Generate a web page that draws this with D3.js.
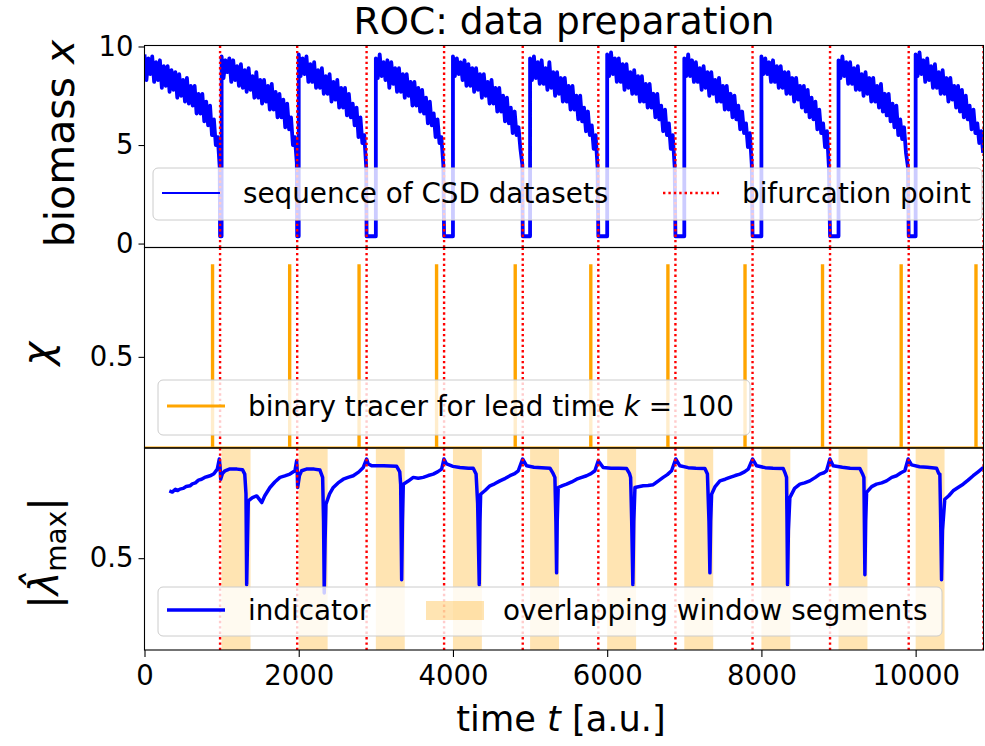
<!DOCTYPE html>
<html><head><meta charset="utf-8">
<script src="https://cdn.jsdelivr.net/npm/d3@7"></script>
<style>
html,body{margin:0;padding:0;background:#fff;}
svg{display:block;font-family:"DejaVu Sans",sans-serif;}
</style></head><body>
<svg id="chart" width="985" height="746"></svg>
<script>
// ---------------- data ----------------
// start of each CSD dataset and its bifurcation time
const segmentStarts = [0, 1000, 2000, 3000, 4000, 5000, 6000, 7000, 8000, 9000, 10000];
const bifurcations  = [980, 1980, 2880, 3885, 4905, 5885, 6885, 7885, 8890, 9910, 10880];
const sampleStep = 25;          // time between stored biomass samples
const collapsedLevel = 0.37;    // biomass after the tipping point

// biomass samples of each dataset (every sampleStep from its start)
const biomass = [
  [9.6,8.3,9.4,8.6,9.5,8.2,9.2,8.3,9.3,7.9,9.0,8.0,9.0,7.7,8.8,7.8,8.7,7.4,8.6,7.5,8.3,7.2,8.4,7.1,8.0,7.0,8.0,6.6,7.6,6.6,7.6,6.2,7.2,6.0,7.0,5.5,6.3,5.0,5.4,3.9],
  [9.5,8.4,9.3,8.7,9.4,8.2,9.3,8.3,9.0,8.0,9.1,7.9,8.8,7.7,8.9,7.8,8.5,7.4,8.7,7.4,8.3,7.1,8.3,7.2,8.0,6.8,8.1,6.8,7.7,6.4,7.6,6.4,7.3,5.9,7.1,5.8,6.4,5.0,5.4,4.1],
  [9.6,8.5,9.4,8.6,9.5,8.2,9.1,8.2,9.2,7.9,8.8,7.9,8.9,7.6,8.5,7.6,8.6,7.2,8.2,7.3,8.3,6.9,7.9,6.9,7.9,6.5,7.6,6.4,7.1,6.0,6.9,5.4,6.4,5.1,5.5,3.9],
  [9.4,8.4,9.6,8.5,9.2,8.3,9.3,7.9,9.2,8.1,8.9,7.7,8.9,7.7,8.6,7.4,8.6,7.5,8.2,7.0,8.2,7.0,7.9,6.7,7.8,6.6,7.4,6.1,7.2,6.0,6.6,5.4,6.3,5.1,5.4,4.0],
  [9.5,8.5,9.4,8.6,9.2,8.3,9.3,8.0,9.1,8.0,8.9,7.7,8.9,7.8,8.6,7.4,8.6,7.5,8.2,7.1,8.3,7.1,7.9,6.7,7.9,6.7,7.5,6.2,7.4,6.1,6.9,5.6,6.7,5.5,5.9,4.8,4.0],
  [9.4,8.3,9.5,8.4,9.2,8.1,9.3,8.1,8.9,7.8,9.2,7.9,8.7,7.5,8.7,7.6,8.4,7.2,8.4,7.2,8.0,6.8,8.0,6.8,7.5,6.3,7.5,6.2,6.9,5.7,6.7,5.5,6.0,4.8,5.5,3.9],
  [9.6,8.5,9.7,8.6,9.4,8.2,9.4,8.2,9.1,7.8,9.1,7.9,8.7,7.6,8.8,7.6,8.5,7.2,8.5,7.2,8.1,6.9,8.1,6.9,7.6,6.4,7.6,6.3,7.0,5.7,6.8,5.5,6.1,4.8,5.5,3.9],
  [9.4,8.5,9.6,8.5,9.3,8.2,9.2,8.2,8.9,7.8,9.0,7.9,8.7,7.5,8.7,7.6,8.3,7.2,8.4,7.2,8.0,6.8,8.0,6.8,7.6,6.4,7.5,6.3,7.0,5.8,6.7,5.6,6.1,4.9,5.6,4.0],
  [9.5,8.6,9.4,8.6,9.2,8.2,9.3,8.2,9.0,7.9,9.0,7.9,8.7,7.6,8.7,7.6,8.4,7.2,8.4,7.3,8.0,6.9,8.0,6.7,7.8,6.4,7.4,6.3,7.2,5.8,6.8,5.6,6.1,4.9,5.7,3.9],
  [9.3,8.4,9.5,8.5,9.2,8.1,9.2,8.1,8.9,7.8,9.0,7.8,8.6,7.5,8.7,7.6,8.4,7.2,8.4,7.2,8.0,6.9,8.1,6.7,7.6,6.5,7.6,6.2,7.1,5.9,7.0,5.5,6.3,5.3,5.9,4.6,3.9],
  [9.6,8.5,9.7,8.6,9.3,8.2,9.4,8.3,9.0,7.9,9.1,7.9,8.7,7.6,8.8,7.6,8.4,7.2,8.4,7.3,8.0,6.9,8.0,6.7,7.8,6.4,7.5,6.3,7.0,5.8,6.8,5.6,6.1,5.1,5.7,4.6]
];

// binary tracer: switched on k = 100 time units before each bifurcation
const tracerTimes = [880, 1880, 2780, 3785, 4805, 5785, 6785, 7785, 8790, 9810, 10780];

// overlapping window segments
const windowStarts = [1000, 2000, 3000, 4000, 5000, 6000, 7000, 8000, 9000, 10000];
const windowLength = 375;

// indicator |lambda_max|
const indicatorT = [322,360,400,430,460,500,540,590,620,660,700,740,780,820,860,900,944,970,980,988,1010,1044,1100,1200,1270,1300,1316,1325,1336,1346,1400,1455,1490,1520,1560,1627,1690,1757,1820,1886,1951,1973,1980,1986,2010,2038,2100,2200,2275,2310,2322,2331,2342,2353,2400,2448,2510,2578,2640,2707,2780,2837,2881,2902,2950,3100,3270,3310,3322,3335,3345,3356,3420,3485,3550,3614,3680,3744,3800,3853,3883,3918,4000,4090,4200,4263,4300,4320,4341,4350,4359,4420,4480,4540,4609,4680,4739,4800,4847,4903,4956,5050,5150,5258,5300,5322,5335,5344,5352,5365,5420,5474,5540,5604,5670,5733,5790,5841,5884,5948,6050,6150,6252,6290,6304,6318,6333,6345,6360,6420,6467,6530,6597,6660,6726,6780,6835,6889,6943,7050,7150,7267,7300,7320,7332,7342,7354,7400,7462,7530,7592,7660,7722,7780,7829,7886,7938,8050,8150,8283,8310,8326,8332,8339,8350,8369,8430,8499,8560,8628,8700,8758,8810,8845,8888,8930,9050,9150,9277,9310,9329,9335,9342,9352,9364,9430,9493,9560,9623,9690,9752,9810,9860,9903,9947,10050,10150,10271,10300,10314,10325,10336,10348,10378,10430,10486,10550,10616,10680,10746,10810,10880];
const indicatorV = [0.866,0.86,0.875,0.868,0.876,0.88,0.89,0.894,0.905,0.91,0.925,0.93,0.94,0.945,0.95,0.96,0.985,1.04,1.0,0.93,0.96,0.976,0.985,0.985,0.982,0.958,0.85,0.356,0.6,0.812,0.83,0.839,0.82,0.803,0.84,0.885,0.915,0.94,0.948,0.958,0.976,1.031,0.98,0.885,0.95,0.976,0.985,0.985,0.98,0.94,0.7,0.31,0.6,0.794,0.85,0.885,0.91,0.93,0.94,0.949,0.97,0.994,1.04,1.013,1.003,1.003,1.0,0.97,0.9,0.383,0.7,0.903,0.92,0.94,0.935,0.94,0.95,0.958,0.97,0.985,1.04,1.013,1.0,0.994,0.99,0.99,0.958,0.8,0.356,0.7,0.848,0.87,0.894,0.905,0.921,0.935,0.949,0.96,0.976,1.04,1.003,0.995,0.993,0.99,0.96,0.94,0.7,0.42,0.7,0.885,0.895,0.903,0.915,0.93,0.94,0.949,0.96,0.976,1.031,0.994,0.99,0.99,0.988,0.96,0.94,0.7,0.356,0.7,0.885,0.89,0.894,0.896,0.9,0.92,0.94,0.955,0.976,1.04,1.003,0.993,0.99,0.988,0.958,0.7,0.42,0.7,0.848,0.89,0.921,0.93,0.94,0.95,0.958,0.97,0.985,1.04,1.003,0.993,0.99,0.988,0.96,0.94,0.7,0.356,0.65,0.83,0.88,0.903,0.91,0.921,0.94,0.958,0.965,0.976,1.04,1.003,0.995,0.99,0.988,0.96,0.94,0.7,0.41,0.7,0.858,0.89,0.903,0.91,0.921,0.94,0.949,0.965,0.976,1.04,1.008,0.998,0.995,0.99,0.96,0.958,0.7,0.383,0.65,0.821,0.84,0.867,0.885,0.903,0.925,0.949,0.97,0.994];

// axes settings
const timeDomain = [0, 10880];
const timeTicks = [0, 2000, 4000, 6000, 8000, 10000];
const biomassDomain = [-0.2, 10.05];
const biomassTicks = [0, 5, 10];
const unitDomain = [0, 1.1];
const tracerTicks = [0.5];
const indicatorTicks = [0.5];

// ---------------- drawing ----------------
const svg = d3.select("#chart");
const TICK_FONT = 27.5, LEGEND_FONT = 27.8, LABEL_FONT = 41;
const left = 144.5, right = 983.5;
const panels = [
  {top: 45.5, bottom: 247.5},
  {top: 247.5, bottom: 448},
  {top: 448, bottom: 650}
];
const BLUE = "#0000ff", ORANGE = "#ffa500", RED = "#ff0000";
const DOTS = "2.4,3";

const x = d3.scaleLinear().domain(timeDomain).range([left, right]);
const yBio = d3.scaleLinear().domain(biomassDomain).range([panels[0].bottom, panels[0].top]);
const yChi = d3.scaleLinear().domain(unitDomain).range([panels[1].bottom, panels[1].top]);
const yLam = d3.scaleLinear().domain(unitDomain).range([panels[2].bottom, panels[2].top]);

const defs = svg.append("defs");
panels.forEach((p, i) => {
  defs.append("clipPath").attr("id", "clip" + i)
    .append("rect").attr("x", left).attr("y", p.top)
    .attr("width", right - left).attr("height", p.bottom - p.top);
});

function bifurcationLines(g, p) {
  g.selectAll("line.bif").data(bifurcations).join("line")
    .attr("class", "bif")
    .attr("x1", d => x(d)).attr("x2", d => x(d))
    .attr("y1", p.top).attr("y2", p.bottom)
    .attr("stroke", RED).attr("stroke-width", 2.4)
    .attr("stroke-dasharray", DOTS);
}

function frame(p) {
  svg.append("rect").attr("x", left).attr("y", p.top)
    .attr("width", right - left).attr("height", p.bottom - p.top)
    .attr("fill", "none").attr("stroke", "#000").attr("stroke-width", 1.1);
}

function yAxis(scale, ticks, fmt) {
  const g = svg.append("g").attr("transform", `translate(${left},0)`)
    .call(d3.axisLeft(scale).tickValues(ticks).tickSize(6).tickPadding(5).tickFormat(fmt));
  g.select(".domain").remove();
  g.selectAll(".tick line").attr("stroke", "#000").attr("stroke-width", 1.1);
  g.selectAll(".tick text").attr("font-size", TICK_FONT).attr("font-family", "DejaVu Sans").attr("fill", "#000");
}

// ---- panel 1: biomass ----
const bioPts = [];
biomass.forEach((vals, k) => {
  const s = segmentStarts[k];
  if (k > 0) bioPts.push([s, collapsedLevel]);
  vals.forEach((v, i) => bioPts.push([s + i * sampleStep, v]));
  if (k < biomass.length - 1) bioPts.push([bifurcations[k], collapsedLevel]);
});
const g1 = svg.append("g").attr("clip-path", "url(#clip0)");
g1.append("path").datum(bioPts)
  .attr("d", d3.line().x(d => x(d[0])).y(d => yBio(d[1])))
  .attr("fill", "none").attr("stroke", BLUE).attr("stroke-width", 3.8)
  .attr("stroke-linejoin", "round");
bifurcationLines(g1, panels[0]);
frame(panels[0]);
yAxis(yBio, biomassTicks, d3.format("d"));

// ---- panel 2: binary tracer ----
const chiPts = [[timeDomain[0], 0]];
tracerTimes.forEach(t => { chiPts.push([t, 0], [t, 1], [t + 5, 1], [t + 5, 0]); });
chiPts.push([timeDomain[1], 0]);
const g2 = svg.append("g").attr("clip-path", "url(#clip1)");
g2.append("path").datum(chiPts)
  .attr("d", d3.line().x(d => x(d[0])).y(d => yChi(d[1])))
  .attr("fill", "none").attr("stroke", ORANGE).attr("stroke-width", 3)
  .attr("stroke-linejoin", "miter");
bifurcationLines(g2, panels[1]);
frame(panels[1]);
yAxis(yChi, tracerTicks, d3.format(".1f"));

// ---- panel 3: indicator ----
const g3 = svg.append("g").attr("clip-path", "url(#clip2)");
g3.selectAll("rect.win").data(windowStarts).join("rect")
  .attr("class", "win")
  .attr("x", d => x(d)).attr("width", d => x(d + windowLength) - x(d))
  .attr("y", panels[2].top).attr("height", panels[2].bottom - panels[2].top)
  .attr("fill", ORANGE).attr("fill-opacity", 0.3);
g3.append("path").datum(d3.zip(indicatorT, indicatorV))
  .attr("d", d3.line().x(d => x(d[0])).y(d => yLam(d[1])))
  .attr("fill", "none").attr("stroke", BLUE).attr("stroke-width", 3.5)
  .attr("stroke-linejoin", "round");
bifurcationLines(g3, panels[2]);
frame(panels[2]);
yAxis(yLam, indicatorTicks, d3.format(".1f"));

// x axis
const gx = svg.append("g").attr("transform", `translate(0,${panels[2].bottom})`)
  .call(d3.axisBottom(x).tickValues(timeTicks).tickSize(7).tickPadding(8).tickFormat(d3.format("d")));
gx.select(".domain").remove();
gx.selectAll(".tick line").attr("stroke", "#000").attr("stroke-width", 1.1);
gx.selectAll(".tick text").attr("font-size", TICK_FONT).attr("font-family", "DejaVu Sans").attr("fill", "#000");

// ---- texts ----
svg.append("text").attr("x", (left + right) / 2).attr("y", 34)
  .attr("text-anchor", "middle").attr("font-size", 37.5).text("ROC: data preparation");

const xl = svg.append("text").attr("x", (left + right) / 2 - 3).attr("y", 731)
  .attr("text-anchor", "middle").attr("font-size", 35.2);
xl.append("tspan").text("time ");
xl.append("tspan").attr("font-style", "italic").text("t");
xl.append("tspan").text(" [a.u.]");

const yl1 = svg.append("text").attr("transform", `translate(74,${(panels[0].top + panels[0].bottom) / 2 - 3}) rotate(-90)`)
  .attr("text-anchor", "middle").attr("font-size", LABEL_FONT);
yl1.append("tspan").text("biomass ");
yl1.append("tspan").attr("font-style", "italic").text("x");

svg.append("text").attr("transform", `translate(51,${(panels[1].top + panels[1].bottom) / 2 + 6}) rotate(-90)`)
  .attr("text-anchor", "middle").attr("font-size", 40).attr("font-style", "italic").text("χ");

const yl3 = svg.append("text").attr("transform", `translate(58,${(panels[2].top + panels[2].bottom) / 2 + 4}) rotate(-90)`)
  .attr("text-anchor", "middle").attr("font-size", 40);
yl3.append("tspan").text("|");
yl3.append("tspan").attr("font-style", "italic").text("λ\u0302");
yl3.append("tspan").attr("font-size", 28).attr("dy", 8).text("max");
yl3.append("tspan").attr("dy", -8).text("|");

// ---- legends ----
function legendBox(bx, by, bw, bh) {
  svg.append("rect").attr("x", bx).attr("y", by).attr("width", bw).attr("height", bh)
    .attr("rx", 5).attr("fill", "#fff").attr("fill-opacity", 0.8)
    .attr("stroke", "#cccccc").attr("stroke-width", 1);
}
function legendText(tx, cy) {
  return svg.append("text").attr("x", tx).attr("y", cy + 10).attr("font-size", LEGEND_FONT).attr("fill", "#000");
}

// top
legendBox(153, 168, 829, 52);
svg.append("line").attr("x1", 162).attr("x2", 220).attr("y1", 193).attr("y2", 193)
  .attr("stroke", BLUE).attr("stroke-width", 2);
legendText(243, 193).text("sequence of CSD datasets");
svg.append("line").attr("x1", 663).attr("x2", 719).attr("y1", 193).attr("y2", 193)
  .attr("stroke", RED).attr("stroke-width", 2.4).attr("stroke-dasharray", DOTS);
legendText(742, 193).text("bifurcation point");

// middle
legendBox(158, 380, 592, 55);
svg.append("line").attr("x1", 167).attr("x2", 225).attr("y1", 406).attr("y2", 406)
  .attr("stroke", ORANGE).attr("stroke-width", 3);
const lt = legendText(248, 406);
lt.append("tspan").text("binary tracer for lead time ");
lt.append("tspan").attr("font-style", "italic").text("k");
lt.append("tspan").text(" = 100");

// bottom
legendBox(158, 587, 784, 49);
svg.append("line").attr("x1", 167).attr("x2", 225).attr("y1", 610).attr("y2", 610)
  .attr("stroke", BLUE).attr("stroke-width", 3.5);
legendText(248, 610).text("indicator");
svg.append("rect").attr("x", 426).attr("y", 601).attr("width", 58).attr("height", 19)
  .attr("fill", ORANGE).attr("fill-opacity", 0.3);
legendText(503, 610).text("overlapping window segments");
</script>
</body></html>
